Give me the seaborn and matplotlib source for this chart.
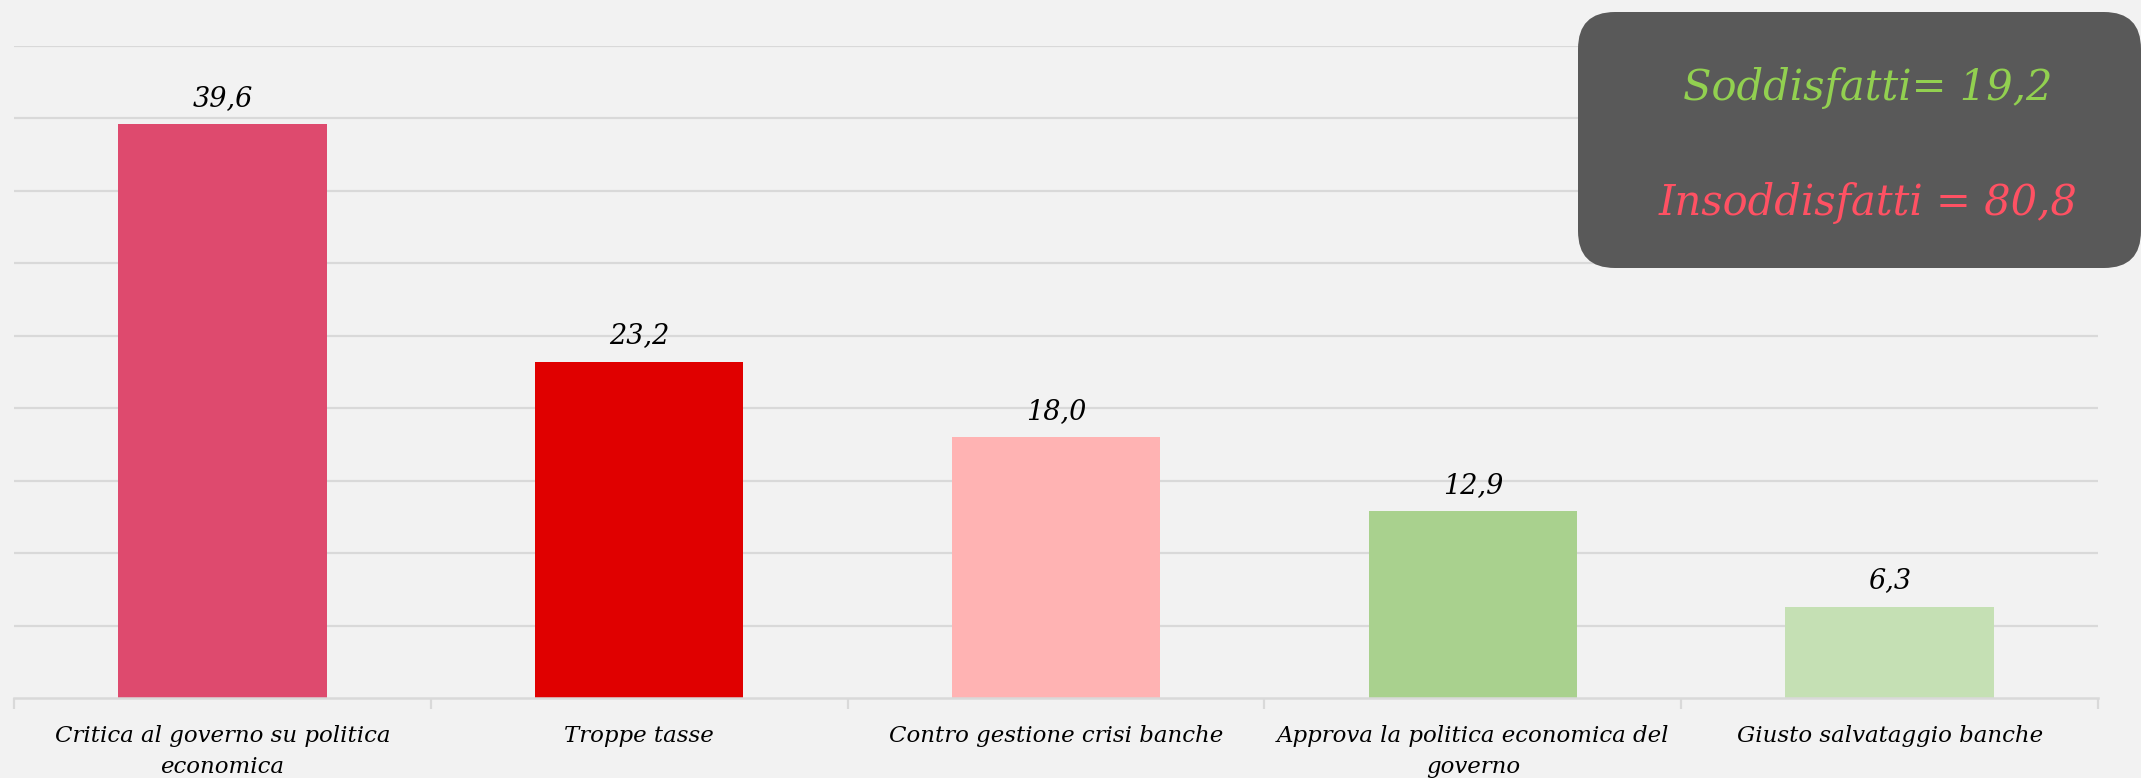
import matplotlib
matplotlib.use("Agg")
import matplotlib.pyplot as plt
import seaborn as sns
import pandas as pd
from matplotlib.patches import FancyBboxPatch
from matplotlib.transforms import IdentityTransform

categories = [
    "Critica al governo su politica\neconomica",
    "Troppe tasse",
    "Contro gestione crisi banche",
    "Approva la politica economica del\ngoverno",
    "Giusto salvataggio banche",
]
values = [39.6, 23.2, 18.0, 12.9, 6.3]
bar_colors = ["#DE4A6E", "#E00000", "#FFB3B3", "#A9D18E", "#C5E0B4"]
summary_lines = ["Soddisfatti= 19,2", "Insoddisfatti = 80,8"]
summary_colors = ["#92D050", "#FF5163"]

sns.set_theme(style="white")
plt.rcParams["font.family"] = ["DejaVu Serif"]

bg = "#F2F2F2"
grid = "#D9D9D9"

fig = plt.figure(figsize=(21.41, 7.78), dpi=100, facecolor=bg)
ax = fig.add_axes([14 / 2141, 1 - 698 / 778, (2098 - 14) / 2141, (698 - 46) / 778])
ax.set_facecolor(bg)

df = pd.DataFrame({"cat": categories, "val": values})
sns.barplot(data=df, x="cat", y="val", hue="cat", palette=bar_colors,
            legend=False, width=0.5, ax=ax, saturation=1, linewidth=0)

ax.set_ylim(0, 45)
ax.set_xlim(-0.5, len(categories) - 0.5)
ax.set_yticks(range(5, 50, 5))
ax.yaxis.grid(True, color=grid, linewidth=1.6)
ax.set_axisbelow(True)
ax.tick_params(axis="y", left=False, labelleft=False)
for s in ["left", "top", "right"]:
    ax.spines[s].set_visible(False)
ax.spines["bottom"].set_color(grid)
ax.spines["bottom"].set_linewidth(1.8)

ax.set_xlabel("")
ax.set_ylabel("")
ax.set_xticks(range(len(categories)))
ax.set_xticklabels(categories, fontsize=16.5, style="italic", linespacing=1.55)
ax.tick_params(axis="x", which="major", length=0, pad=19.5, colors="black")
ax.set_xticks([i - 0.5 for i in range(len(categories) + 1)], minor=True)
ax.tick_params(axis="x", which="minor", length=8, width=1.6, color=grid, bottom=True)

labels = [f"{v:.1f}".replace(".", ",") for v in values]
for cont in ax.containers:
    ax.bar_label(cont, labels=[labels[int(round(b.get_x() + b.get_width() / 2))] for b in cont],
                 padding=9, fontsize=19.5, style="italic", color="black")

box = FancyBboxPatch((1578, 778 - 268), 563, 256,
                     boxstyle="round,pad=0,rounding_size=37",
                     transform=IdentityTransform(), facecolor="#595959",
                     edgecolor="none", zorder=10)
fig.add_artist(box)
fig.text(1868 / 2141, 1 - 88 / 778, summary_lines[0], color=summary_colors[0],
         fontsize=30, style="italic", ha="center", va="center", zorder=11)
fig.text(1868 / 2141, 1 - 203 / 778, summary_lines[1], color=summary_colors[1],
         fontsize=30, style="italic", ha="center", va="center", zorder=11)

fig.savefig("out.png", dpi=100, facecolor=bg)
